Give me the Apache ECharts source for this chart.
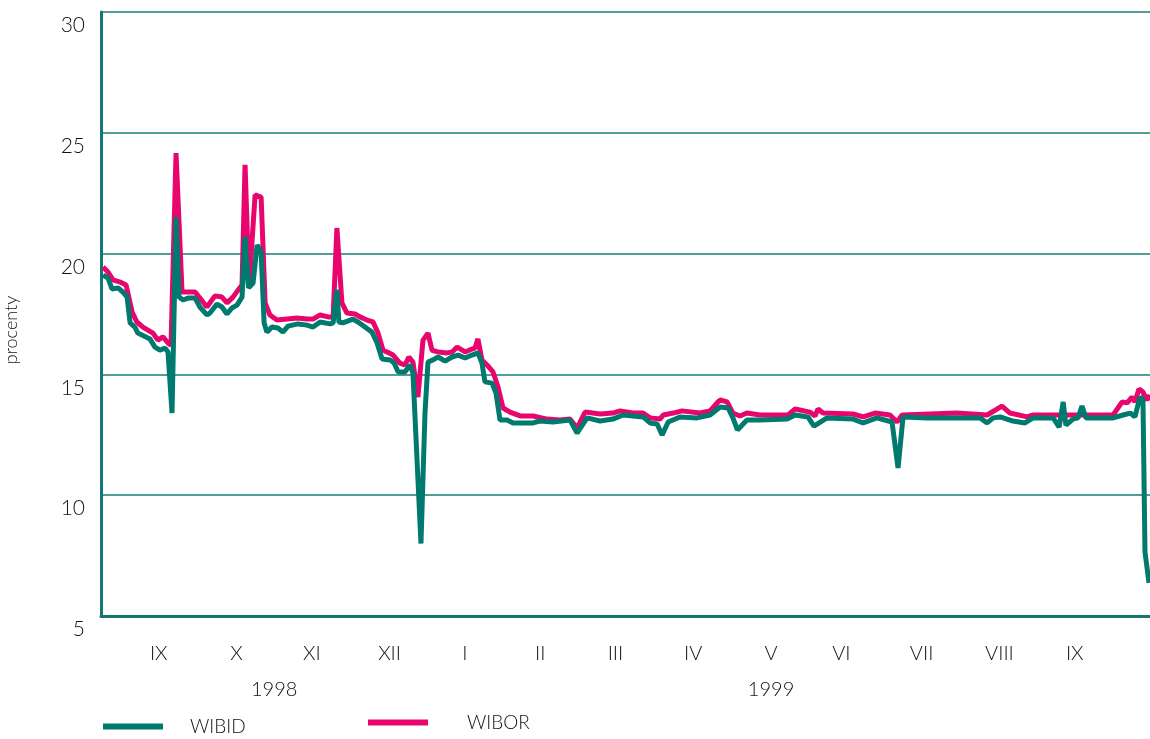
<!DOCTYPE html>
<html>
<head>
<meta charset="utf-8">
<script src="https://cdn.jsdelivr.net/npm/echarts@6/dist/echarts.min.js"></script>
<style>
  html, body { margin: 0; padding: 0; background: #fff; }
  #chart { width: 1150px; height: 739px; }
</style>
</head>
<body>
<div id="chart"></div>
<script>
// os x: dni liczone od 1998-08-22
var startDay = '1998-08-22';
var endDay = '1999-10-14';

var wibidDays = [0.8, 2.8, 4.4, 6.8, 8.8, 10.4, 11.6, 13.5, 14.7, 19.5, 21.5, 23.5, 25.5, 26.7, 28.3, 29.9,
  31.1, 32.7, 34.7, 37.5, 39.4, 42.2, 43.4, 46.2, 48.2, 50.2, 52.2, 54.2, 56.2, 57.4, 58.8, 60.6, 62.2, 63.8,
  65.0, 66.1, 68.1, 70.5, 72.5, 74.5, 78.5, 82.1, 84.5, 87.3, 91.3, 92.5, 94.0, 94.8, 96.4, 100.4, 102.4,
  105.2, 108.0, 110.0, 112.0, 115.2, 116.8, 118.4, 121.1, 123.1, 124.3, 127.5, 129.1, 130.3, 132.3, 134.3,
  137.1, 139.9, 142.3, 145.1, 147.8, 150.2, 151.8, 153.0, 155.8, 157.4, 159.0, 161.8, 164.2, 168.2, 172.2,
  174.9, 180.1, 186.9, 189.7, 193.7, 198.9, 204.0, 208.0, 216.0, 218.8, 221.6, 223.6, 226.0, 230.7, 237.5,
  242.7, 246.7, 249.9, 251.8, 253.6, 257.4, 262.6, 273.4, 276.6, 281.7, 284.1, 289.3, 299.7, 303.7, 309.2,
  315.2, 317.6, 319.6, 329.2, 342.3, 350.3, 353.1, 355.5, 358.3, 363.4, 368.2, 371.4, 379.4, 381.8, 383.4,
  384.5, 387.3, 389.3, 390.9, 392.5, 403.3, 407.3, 410.1, 412.0, 414.0, 415.2, 416.0, 417.6];
var wibidValues = [19.11, 18.99, 18.53, 18.58, 18.4, 18.2, 17.13, 16.96, 16.71, 16.47, 16.13, 16.0, 16.09, 15.93, 13.4, 21.5,
  18.2, 18.08, 18.16, 18.16, 17.79, 17.46, 17.54, 17.91, 17.79, 17.5, 17.75, 17.87, 18.2, 20.69, 18.58, 18.78, 20.36, 20.07,
  17.13, 16.75, 16.96, 16.92, 16.75, 17.0, 17.09, 17.04, 16.96, 17.17, 17.09, 17.13, 18.5, 17.17, 17.13, 17.29, 17.17,
  16.96, 16.75, 16.3, 15.64, 15.6, 15.47, 15.1, 15.1, 15.39, 15.06, 8.0, 13.4, 15.51, 15.6, 15.72,
  15.55, 15.72, 15.8, 15.68, 15.8, 15.89, 15.47, 14.69, 14.64, 14.23, 13.11, 13.11, 12.99, 12.99, 12.99,
  13.07, 13.03, 13.11, 12.57, 13.2, 13.07, 13.15, 13.32, 13.24, 12.99, 12.95, 12.49, 13.03, 13.24, 13.2,
  13.32, 13.65, 13.61, 13.2, 12.7, 13.11, 13.11, 13.15, 13.32, 13.24, 12.86, 13.2, 13.15, 12.99, 13.2,
  13.03, 11.13, 13.24, 13.2, 13.2, 13.2, 12.99, 13.2, 13.24, 13.07, 12.99, 13.2, 13.2, 12.82, 13.86,
  12.9, 13.15, 13.2, 13.69, 13.2, 13.2, 13.32, 13.4, 13.24, 14.06, 13.94, 7.65, 6.37];

var wiborDays = [0.8, 2.8, 4.8, 7.6, 10.0, 12.4, 14.3, 16.7, 20.7, 22.7, 24.7, 26.7, 27.9, 29.9, 32.3, 37.5,
  39.4, 42.2, 45.4, 48.2, 50.2, 52.6, 54.6, 56.2, 57.4, 59.0, 61.4, 63.8, 65.4, 67.3, 70.1, 74.1, 78.1,
  82.1, 84.5, 87.3, 90.5, 92.5, 94.0, 96.0, 98.0, 101.2, 103.2, 106.0, 108.4, 110.4, 112.4, 114.0, 116.4,
  119.1, 121.1, 122.7, 124.3, 126.3, 128.3, 130.3, 131.9, 134.3, 137.9, 139.9, 141.9, 145.1, 147.8, 149.0,
  150.2, 151.8, 153.8, 156.2, 158.2, 160.2, 163.0, 167.0, 172.2, 177.7, 182.9, 186.9, 189.7, 192.9, 198.9,
  204.0, 206.8, 212.0, 216.0, 218.8, 222.8, 224.0, 228.0, 231.5, 238.7, 242.7, 245.5, 246.7, 249.5, 251.8,
  254.6, 257.4, 262.6, 273.8, 276.6, 282.5, 284.5, 285.7, 287.7, 299.7, 303.7, 308.4, 314.4, 317.2, 319.2,
  341.1, 353.1, 359.0, 362.2, 369.0, 371.4, 403.3, 406.9, 408.9, 410.8, 412.0, 413.6, 415.2, 416.8, 418.0];
var wiborValues = [19.45, 19.24, 18.91, 18.82, 18.7, 17.58, 17.17, 16.96, 16.71, 16.42, 16.55, 16.3, 16.2, 24.16, 18.41, 18.41,
  18.16, 17.79, 18.25, 18.2, 17.96, 18.2, 18.49, 18.7, 23.67, 18.62, 22.43, 22.34, 17.96, 17.46, 17.25, 17.29, 17.33,
  17.29, 17.29, 17.46, 17.38, 17.38, 21.06, 17.96, 17.54, 17.5, 17.38, 17.25, 17.17, 16.71, 16.0, 15.93, 15.8,
  15.47, 15.39, 15.72, 15.51, 14.06, 16.42, 16.71, 16.0, 15.93, 15.89, 15.93, 16.13, 15.93, 16.05, 16.09,
  16.47, 15.6, 15.39, 15.1, 14.48, 13.61, 13.44, 13.28, 13.28, 13.15, 13.11, 13.15, 12.78, 13.44, 13.36,
  13.4, 13.49, 13.4, 13.4, 13.2, 13.15, 13.32, 13.4, 13.49, 13.4, 13.49, 13.82, 13.94, 13.86, 13.4,
  13.28, 13.4, 13.32, 13.32, 13.57, 13.44, 13.28, 13.57, 13.4, 13.36, 13.24, 13.4, 13.32, 13.03, 13.32,
  13.4, 13.32, 13.69, 13.4, 13.24, 13.32, 13.32, 13.86, 13.82, 14.06, 13.86, 14.4, 14.27, 13.94, 14.15];

var monthTickDates = ['1998-09-14', '1998-10-15', '1998-11-14', '1998-12-15', '1999-01-14', '1999-02-13',
  '1999-03-15', '1999-04-15', '1999-05-16', '1999-06-13', '1999-07-15', '1999-08-15', '1999-09-14'];
var monthTickLabels = ['IX', 'X', 'XI', 'XII', 'I', 'II', 'III', 'IV', 'V', 'VI', 'VII', 'VIII', 'IX'];
var yearTickDates = ['1998-10-30', '1999-05-16'];
var yearTickLabels = ['1998', '1999'];

function dayNo(s) {
  var p = s.split('-');
  var t = Date.UTC(+p[0], +p[1] - 1, +p[2]);
  var q = startDay.split('-');
  return Math.round((t - Date.UTC(+q[0], +q[1] - 1, +q[2])) / 86400000);
}
function toSeries(days, vals) {
  var out = [];
  for (var i = 0; i < days.length; i++) {
    out[i] = [days[i], vals[i]];
  }
  return out;
}
function labelFor(ticks, labels) {
  return function (v) {
    for (var i = 0; i < ticks.length; i++) {
      if (Math.abs(ticks[i] - v) < 0.01) return labels[i];
    }
    return '';
  };
}
var monthTicks = monthTickDates.map(dayNo);
var yearTicks = yearTickDates.map(dayNo);
var lastDay = dayNo(endDay);

var teal = '#00796f';
var pink = '#e8066e';
var font = 'Lato, "Liberation Sans", sans-serif';
var txt = '#111';

var chart = echarts.init(document.getElementById('chart'));
chart.setOption({
  animation: false,
  grid: { left: 101, right: 0, top: 12, bottom: 123, outerBoundsMode: 'none' },
  legend: [{
    data: ['WIBID'], left: 103, top: 717, padding: 0, icon: 'rect', itemWidth: 60, itemHeight: 6,
    textStyle: { fontFamily: font, fontWeight: 300, fontSize: 19, color: txt, padding: [0, 0, 0, 22] }
  }, {
    data: ['WIBOR'], left: 368, top: 713, padding: 0, icon: 'rect', itemWidth: 60, itemHeight: 6,
    textStyle: { fontFamily: font, fontWeight: 300, fontSize: 19, color: txt, padding: [0, 0, 0, 34] }
  }],
  xAxis: [{
    type: 'value',
    min: 0,
    max: lastDay,
    axisLine: { lineStyle: { color: '#137870', width: 3 } },
    axisTick: { show: false },
    splitLine: { show: false },
    axisLabel: {
      customValues: monthTicks,
      formatter: labelFor(monthTicks, monthTickLabels),
      margin: 28, fontFamily: font, fontWeight: 300, fontSize: 20, color: txt
    }
  }, {
    type: 'value',
    min: 0,
    max: lastDay,
    position: 'bottom',
    axisLine: { show: false },
    axisTick: { show: false },
    splitLine: { show: false },
    axisLabel: {
      customValues: yearTicks,
      formatter: labelFor(yearTicks, yearTickLabels),
      margin: 64, fontFamily: font, fontWeight: 300, fontSize: 20, color: txt
    }
  }],
  yAxis: {
    type: 'value',
    min: 5,
    max: 30,
    interval: 5,
    name: 'procenty',
    nameLocation: 'middle',
    nameRotate: 90,
    nameGap: 81,
    nameTextStyle: { fontFamily: font, fontWeight: 300, fontSize: 18, color: txt, padding: [0, 32, 0, 0] },
    axisLine: { show: true, lineStyle: { color: '#137870', width: 3 } },
    axisTick: { show: false },
    splitLine: { lineStyle: { color: '#4f9e98', width: 2 } },
    axisLabel: {
      margin: 16, verticalAlign: 'top', padding: [3, 0, 0, 0],
      fontFamily: font, fontWeight: 300, fontSize: 21, color: txt
    }
  },
  series: [{
    name: 'WIBOR',
    type: 'line',
    showSymbol: false,
    color: pink,
    lineStyle: { width: 5, color: pink },
    data: toSeries(wiborDays, wiborValues)
  }, {
    name: 'WIBID',
    type: 'line',
    showSymbol: false,
    color: teal,
    lineStyle: { width: 5, color: teal },
    data: toSeries(wibidDays, wibidValues)
  }]
});
</script>
</body>
</html>
